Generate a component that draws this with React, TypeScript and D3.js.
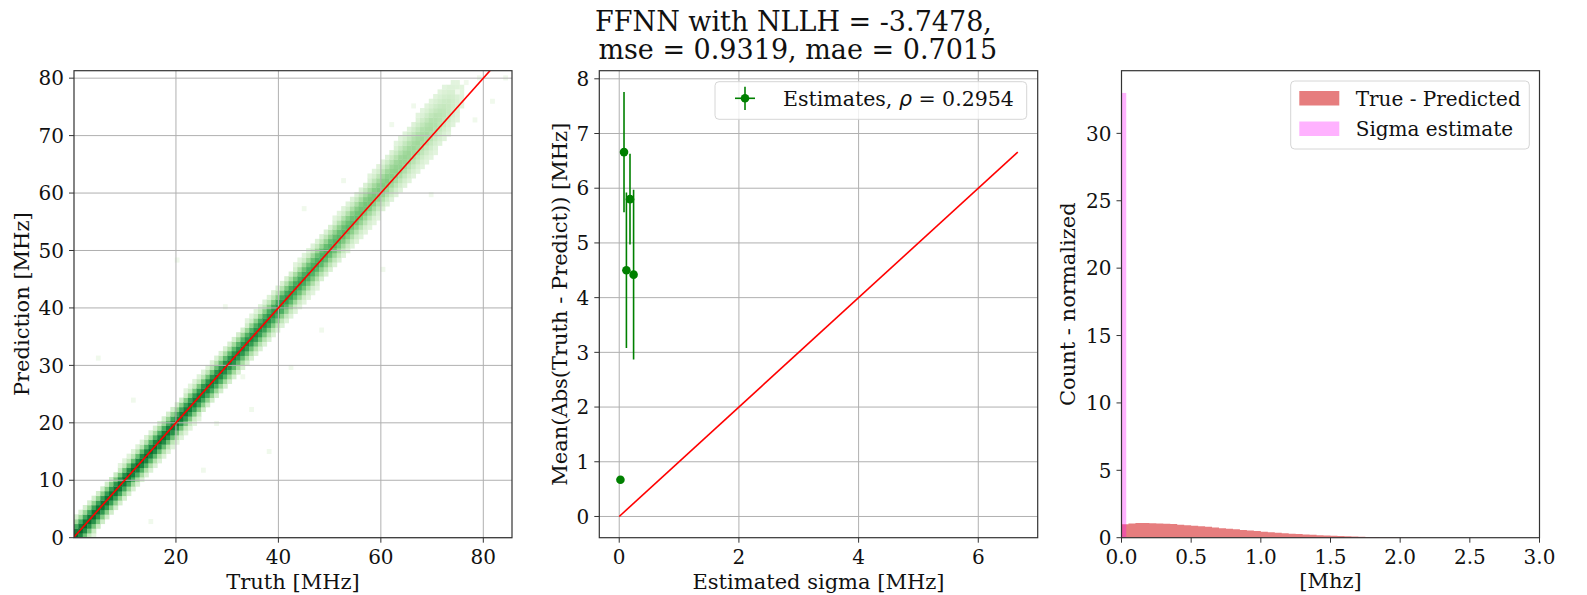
import React from 'react';
import * as d3 from 'd3';

const W = 1587;
const H = 595;
const SERIF = "'DejaVu Serif', serif";

// ---------- Panel 1: Truth vs Prediction (2D histogram) ----------
const truthTicks = [20, 40, 60, 80];
const predTicks = [0, 10, 20, 30, 40, 50, 60, 70, 80];
const truthRange = [0.1, 85.6];
const predRange = [0, 81.3];
const nBins = 100;
// band description read along the diagonal (truth in MHz)
const bandTruth = [0, 10, 20, 30, 40, 50, 60, 65, 70, 73, 76, 86];
const bandLevel = [1.0, 0.98, 0.95, 0.9, 0.8, 0.64, 0.47, 0.38, 0.3, 0.2, 0.03, 0.01];
const bandHalfWidth = [2.3, 2.3, 2.4, 2.5, 2.7, 2.9, 3.2, 3.5, 3.8, 3.8, 3.0, 3.0];
const bandBias = [0, 0, 0, 0, 0, 0.3, 0.8, 1.2, 1.5, 1.5, 1.0, 0.5];
const profileOffset = [0, 0.5, 1, 1.5, 2];
const profileLevel = [1, 0.85, 0.5, 0.15, 0];
const outlierTruth = [5, 12, 25, 28, 33, 38, 30, 48, 45, 53, 62, 70, 75, 82, 84, 20, 60, 78, 15, 42, 66, 35, 79, 77];
const outlierPred = [31, 24, 12, 20, 28, 15, 40, 36, 57, 62, 72, 60, 78, 76, 80, 48, 47, 73, 3, 30, 75, 22, 80, 79];
const identityLine = [0, 90];

// ---------- Panel 2: Estimated sigma vs mean abs error ----------
const sigmaTicks = [0, 2, 4, 6];
const maeTicks = [0, 1, 2, 3, 4, 5, 6, 7, 8];
const sigmaEst = [0.02, 0.08, 0.12, 0.18, 0.24];
const meanAbs = [0.67, 6.66, 4.5, 5.8, 4.42];
const meanAbsErr = [0.0, 1.1, 1.42, 0.83, 1.55];
const diagEnd = 6.66;

// ---------- Panel 3: histograms ----------
const resTicks = [0, 0.5, 1.0, 1.5, 2.0, 2.5, 3.0];
const countTicks = [0, 5, 10, 15, 20, 25, 30];
const resBinWidth = 0.05;
const resDensity = [
  1.0, 1.06, 1.09, 1.1, 1.08, 1.06, 1.04, 1.01, 0.97, 0.92,
  0.88, 0.85, 0.81, 0.76, 0.71, 0.67, 0.62, 0.57, 0.53, 0.49,
  0.44, 0.4, 0.37, 0.33, 0.3, 0.27, 0.24, 0.21, 0.18, 0.16,
  0.14, 0.12, 0.1, 0.085, 0.07, 0.058, 0.048, 0.04, 0.032, 0.025,
  0.018, 0.012, 0.008, 0.005, 0.003,
];
const sigmaBinWidth = 0.034;
const sigmaDensity = [33.0];

const TOP = 70.7;
const BOTTOM = 537.7;
const SPINE = '#333';
const GRID = '#b0b0b0';
const TICK_FS = 20;
const LABEL_FS = 21;
const LEGEND_FS = 20;

function Frame({ x0, x1, y0, y1 }: { x0: number; x1: number; y0: number; y1: number }) {
  return <rect x={x0} y={y0} width={x1 - x0} height={y1 - y0} fill="none" stroke={SPINE} strokeWidth={1.2} />;
}

function XTicks({ scale, ticks, fmt }: { scale: any; ticks: number[]; fmt: (v: number) => string }) {
  return (
    <g>
      {ticks.map((t) => (
        <g key={t}>
          <line x1={scale(t)} x2={scale(t)} y1={BOTTOM} y2={BOTTOM + 5} stroke={SPINE} strokeWidth={1} />
          <text x={scale(t)} y={564} textAnchor="middle" fontFamily={SERIF} fontSize={TICK_FS} fill="#111">
            {fmt(t)}
          </text>
        </g>
      ))}
    </g>
  );
}

function YTicks({ scale, ticks, x0, fmt }: { scale: any; ticks: number[]; x0: number; fmt: (v: number) => string }) {
  return (
    <g>
      {ticks.map((t) => (
        <g key={t}>
          <line x1={x0 - 5} x2={x0} y1={scale(t)} y2={scale(t)} stroke={SPINE} strokeWidth={1} />
          <text x={x0 - 10} y={scale(t) + 7.2} textAnchor="end" fontFamily={SERIF} fontSize={TICK_FS} fill="#111">
            {fmt(t)}
          </text>
        </g>
      ))}
    </g>
  );
}

export default function App() {
  // Panel 1
  const p1 = { x0: 74, x1: 512 };
  const x1s = d3.scaleLinear().domain(truthRange).range([p1.x0, p1.x1]);
  const y1s = d3.scaleLinear().domain(predRange).range([BOTTOM, TOP]);
  const dx = (truthRange[1] - truthRange[0]) / nBins;
  const dy = (predRange[1] - predRange[0]) / nBins;
  const levelAt = d3.scaleLinear().domain(bandTruth).range(bandLevel).clamp(true);
  const widthAt = d3.scaleLinear().domain(bandTruth).range(bandHalfWidth).clamp(true);
  const biasAt = d3.scaleLinear().domain(bandTruth).range(bandBias).clamp(true);
  const profile = d3.scaleLinear().domain(profileOffset).range(profileLevel).clamp(true);
  const cells: { i: number; j: number; c: string }[] = [];
  for (let i = 0; i < nBins; i++) {
    const t = truthRange[0] + (i + 0.5) * dx;
    for (let j = 0; j < nBins; j++) {
      const p = predRange[0] + (j + 0.5) * dy;
      const off = Math.abs(p - t - biasAt(t)) / (dy * widthAt(t));
      const v = levelAt(t) * profile(off);
      if (v > 0.03) cells.push({ i, j, c: d3.interpolateGreens(0.1 + 0.8 * v) });
    }
  }
  outlierTruth.forEach((t, k) => {
    const i = Math.floor((t - truthRange[0]) / dx);
    const j = Math.floor((outlierPred[k] - predRange[0]) / dy);
    cells.push({ i, j, c: d3.interpolateGreens(0.05) });
  });
  const lineGen1 = d3.line<number>().x((d) => x1s(d)).y((d) => y1s(d));

  // Panel 2
  const p2 = { x0: 599.3, x1: 1037.7 };
  const xSpan = diagEnd - 0;
  const x2s = d3.scaleLinear().domain([0 - 0.05 * xSpan, diagEnd + 0.05 * xSpan]).range([p2.x0, p2.x1]);
  const yMax2 = d3.max(meanAbs.map((m, k) => m + meanAbsErr[k])) as number;
  const y2s = d3.scaleLinear().domain([0 - 0.05 * yMax2, yMax2 + 0.05 * yMax2]).range([BOTTOM, TOP]);
  const lineGen2 = d3.line<number>().x((d) => x2s(d)).y((d) => y2s(d));

  // Panel 3
  const p3 = { x0: 1121.5, x1: 1539.5 };
  const x3s = d3.scaleLinear().domain([0, 3]).range([p3.x0, p3.x1]);
  const yMax3 = (d3.max(sigmaDensity) as number) * 1.05;
  const y3s = d3.scaleLinear().domain([0, yMax3]).range([BOTTOM, TOP]);
  const resArea = d3
    .area<number>()
    .curve(d3.curveStepAfter)
    .x((_, k) => x3s(k * resBinWidth))
    .y0(BOTTOM)
    .y1((d) => y3s(d));
  const resSeries = [...resDensity, 0];

  return (
    <svg width={W} height={H} style={{ position: 'fixed', left: 0, top: 0, background: '#fff' }}>
      <rect x={0} y={0} width={W} height={H} fill="#fff" />
      <defs>
        <clipPath id="c1">
          <rect x={p1.x0} y={TOP} width={p1.x1 - p1.x0} height={BOTTOM - TOP} />
        </clipPath>
        <clipPath id="c2">
          <rect x={p2.x0} y={TOP} width={p2.x1 - p2.x0} height={BOTTOM - TOP} />
        </clipPath>
      </defs>

      {/* Title */}
      <text x={W / 2} y={31} textAnchor="middle" fontFamily={SERIF} fontSize={27} fill="#111">
        FFNN with NLLH = -3.7478,
      </text>
      <text x={W / 2} y={59} textAnchor="middle" fontFamily={SERIF} fontSize={27} fill="#111" style={{ whiteSpace: 'pre' }}>
        {' mse = 0.9319, mae = 0.7015'}
      </text>

      {/* ---------- Panel 1 ---------- */}
      <g clipPath="url(#c1)">
        {cells.map((c, k) => (
          <rect
            key={k}
            x={x1s(truthRange[0] + c.i * dx)}
            y={y1s(predRange[0] + (c.j + 1) * dy)}
            width={x1s(truthRange[0] + dx) - x1s(truthRange[0]) + 0.4}
            height={y1s(0) - y1s(dy) + 0.4}
            fill={c.c}
          />
        ))}
      </g>
      <g>
        {truthTicks.map((t) => (
          <line key={'gx' + t} x1={x1s(t)} x2={x1s(t)} y1={TOP} y2={BOTTOM} stroke={GRID} strokeWidth={1} />
        ))}
        {predTicks.map((t) => (
          <line key={'gy' + t} x1={p1.x0} x2={p1.x1} y1={y1s(t)} y2={y1s(t)} stroke={GRID} strokeWidth={1} />
        ))}
      </g>
      <path d={lineGen1(identityLine) as string} stroke="#ff0000" strokeWidth={1.6} fill="none" clipPath="url(#c1)" />
      <Frame x0={p1.x0} x1={p1.x1} y0={TOP} y1={BOTTOM} />
      <XTicks scale={x1s} ticks={truthTicks} fmt={(v) => String(v)} />
      <YTicks scale={y1s} ticks={predTicks} x0={p1.x0} fmt={(v) => String(v)} />
      <text x={(p1.x0 + p1.x1) / 2} y={589} textAnchor="middle" fontFamily={SERIF} fontSize={LABEL_FS} fill="#111">
        Truth [MHz]
      </text>
      <text
        transform={`translate(28.5,${(TOP + BOTTOM) / 2}) rotate(-90)`}
        textAnchor="middle"
        fontFamily={SERIF}
        fontSize={LABEL_FS}
        fill="#111"
      >
        Prediction [MHz]
      </text>

      {/* ---------- Panel 2 ---------- */}
      <g>
        {sigmaTicks.map((t) => (
          <line key={'g2x' + t} x1={x2s(t)} x2={x2s(t)} y1={TOP} y2={BOTTOM} stroke={GRID} strokeWidth={1} />
        ))}
        {maeTicks.map((t) => (
          <line key={'g2y' + t} x1={p2.x0} x2={p2.x1} y1={y2s(t)} y2={y2s(t)} stroke={GRID} strokeWidth={1} />
        ))}
      </g>
      <path d={lineGen2([0, diagEnd]) as string} stroke="#ff0000" strokeWidth={1.6} fill="none" clipPath="url(#c2)" />
      <g clipPath="url(#c2)">
        {sigmaEst.map((s, k) => (
          <g key={k}>
            {meanAbsErr[k] > 0 && (
              <line
                x1={x2s(s)}
                x2={x2s(s)}
                y1={y2s(meanAbs[k] - meanAbsErr[k])}
                y2={y2s(meanAbs[k] + meanAbsErr[k])}
                stroke="#008000"
                strokeWidth={1.6}
              />
            )}
            <circle cx={x2s(s)} cy={y2s(meanAbs[k])} r={4.3} fill="#008000" />
          </g>
        ))}
      </g>
      <Frame x0={p2.x0} x1={p2.x1} y0={TOP} y1={BOTTOM} />
      <XTicks scale={x2s} ticks={sigmaTicks} fmt={(v) => String(v)} />
      <YTicks scale={y2s} ticks={maeTicks} x0={p2.x0} fmt={(v) => String(v)} />
      <text x={(p2.x0 + p2.x1) / 2} y={589} textAnchor="middle" fontFamily={SERIF} fontSize={LABEL_FS} fill="#111">
        Estimated sigma [MHz]
      </text>
      <text
        transform={`translate(566.5,${(TOP + BOTTOM) / 2}) rotate(-90)`}
        textAnchor="middle"
        fontFamily={SERIF}
        fontSize={LABEL_FS}
        fill="#111"
      >
        Mean(Abs(Truth - Predict)) [MHz]
      </text>
      {/* legend 2 */}
      <rect x={715} y={81.7} width={311.7} height={37.6} rx={4} fill="#fff" fillOpacity={0.8} stroke="#d6d6d6" strokeWidth={1} />
      <line x1={735} x2={755} y1={98.3} y2={98.3} stroke="#008000" strokeWidth={1.6} />
      <line x1={745} x2={745} y1={86.7} y2={109.9} stroke="#008000" strokeWidth={1.6} />
      <circle cx={745} cy={98.3} r={4.3} fill="#008000" />
      <text x={783} y={105.8} fontFamily={SERIF} fontSize={LEGEND_FS + 0.5} fill="#111" style={{ whiteSpace: 'pre' }}>
        {'Estimates, '}
        <tspan fontFamily="'DejaVu Sans', sans-serif" fontStyle="italic">ρ</tspan>
        {' = 0.2954'}
      </text>

      {/* ---------- Panel 3 ---------- */}
      <path d={resArea(resSeries) as string} fill="#d62728" fillOpacity={0.6} />
      {sigmaDensity.map((d, k) => (
        <rect
          key={k}
          x={x3s(k * sigmaBinWidth)}
          y={y3s(d)}
          width={x3s(sigmaBinWidth) - x3s(0)}
          height={BOTTOM - y3s(d)}
          fill="#ff00ff"
          fillOpacity={0.3}
        />
      ))}
      <Frame x0={p3.x0} x1={p3.x1} y0={TOP} y1={BOTTOM} />
      <XTicks scale={x3s} ticks={resTicks} fmt={(v) => v.toFixed(1)} />
      <YTicks scale={y3s} ticks={countTicks} x0={p3.x0} fmt={(v) => String(v)} />
      <text x={(p3.x0 + p3.x1) / 2} y={588} textAnchor="middle" fontFamily={SERIF} fontSize={LABEL_FS} fill="#111">
        [Mhz]
      </text>
      <text
        transform={`translate(1075,${(TOP + BOTTOM) / 2}) rotate(-90)`}
        textAnchor="middle"
        fontFamily={SERIF}
        fontSize={LABEL_FS}
        fill="#111"
      >
        Count - normalized
      </text>
      {/* legend 3 */}
      <rect x={1290.7} y={81} width={238.6} height={68} rx={4} fill="#fff" fillOpacity={0.8} stroke="#d6d6d6" strokeWidth={1} />
      <rect x={1299.3} y={91} width={40} height={14.5} fill="#d62728" fillOpacity={0.6} />
      <rect x={1299.3} y={121.5} width={40} height={14.5} fill="#ff00ff" fillOpacity={0.3} />
      <text x={1355.7} y={105.8} fontFamily={SERIF} fontSize={LEGEND_FS} fill="#111">
        True - Predicted
      </text>
      <text x={1355.7} y={136.2} fontFamily={SERIF} fontSize={LEGEND_FS} fill="#111">
        Sigma estimate
      </text>
    </svg>
  );
}
